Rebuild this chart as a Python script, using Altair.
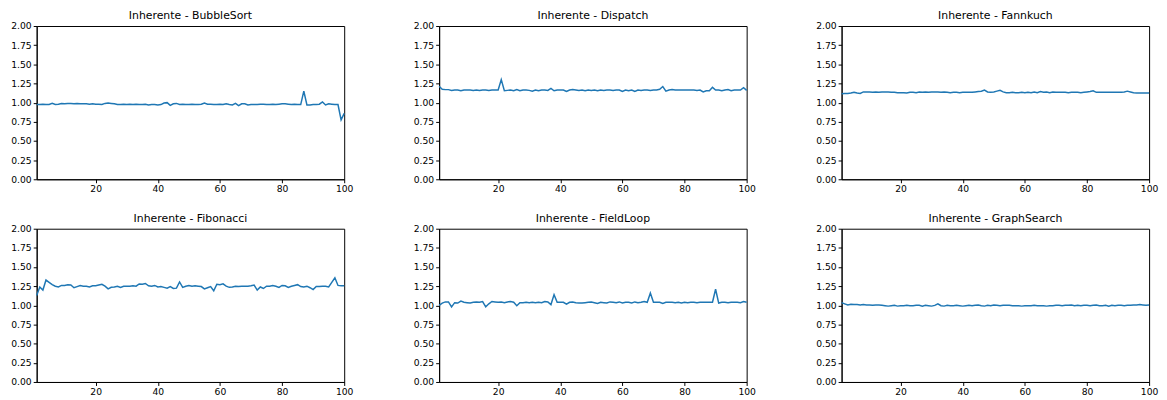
import altair as alt
import pandas as pd

X = list(range(1, 101))

bubblesort = [
    0.975, 0.975, 0.98, 0.975, 0.975, 0.99, 0.975, 0.98, 0.99, 0.985,
    0.99, 0.99, 0.985, 0.99, 0.985, 0.985, 0.985, 0.98, 0.985, 0.98,
    0.98, 0.975, 0.99, 0.995, 0.99, 0.985, 0.975, 0.975, 0.98, 0.975,
    0.98, 0.975, 0.98, 0.975, 0.975, 0.98, 0.97, 0.975, 0.975, 0.97,
    0.975, 0.995, 1.0, 0.965, 0.985, 0.99, 0.975, 0.98, 0.975, 0.975,
    0.98, 0.975, 0.975, 0.98, 0.995, 0.98, 0.98, 0.975, 0.975, 0.98,
    0.975, 0.985, 0.975, 0.97, 0.99, 0.96, 0.985, 0.985, 0.97, 0.975,
    0.975, 0.975, 0.98, 0.98, 0.975, 0.975, 0.98, 0.975, 0.98, 0.985,
    0.985, 0.98, 0.975, 0.98, 0.975, 0.975, 1.15, 0.97, 0.97, 0.975,
    0.975, 0.98, 1.01, 0.97, 0.985, 0.98, 0.975, 0.975, 0.775, 0.86,
]

dispatch = [
    1.215, 1.175, 1.17, 1.17, 1.16, 1.165, 1.165, 1.155, 1.165, 1.165,
    1.165, 1.16, 1.165, 1.16, 1.165, 1.165, 1.16, 1.165, 1.165, 1.165,
    1.30, 1.155, 1.16, 1.165, 1.155, 1.17, 1.155, 1.165, 1.165, 1.16,
    1.15, 1.165, 1.155, 1.165, 1.165, 1.16, 1.185, 1.155, 1.165, 1.165,
    1.165, 1.145, 1.165, 1.17, 1.165, 1.16, 1.165, 1.155, 1.165, 1.16,
    1.165, 1.155, 1.165, 1.16, 1.165, 1.165, 1.16, 1.165, 1.165, 1.145,
    1.165, 1.155, 1.165, 1.145, 1.165, 1.16, 1.165, 1.165, 1.16, 1.165,
    1.165, 1.175, 1.21, 1.15, 1.165, 1.17, 1.165, 1.165, 1.165, 1.165,
    1.165, 1.165, 1.165, 1.16, 1.165, 1.14, 1.155, 1.155, 1.20, 1.165,
    1.165, 1.155, 1.165, 1.17, 1.155, 1.165, 1.165, 1.165, 1.195, 1.16,
]

fannkuch = [
    1.115, 1.12, 1.12, 1.125, 1.135, 1.125, 1.12, 1.14, 1.14, 1.14,
    1.135, 1.14, 1.135, 1.14, 1.14, 1.14, 1.135, 1.135, 1.13, 1.13,
    1.13, 1.125, 1.135, 1.135, 1.13, 1.14, 1.135, 1.14, 1.135, 1.14,
    1.14, 1.14, 1.135, 1.14, 1.135, 1.13, 1.135, 1.135, 1.13, 1.135,
    1.135, 1.135, 1.135, 1.14, 1.145, 1.15, 1.165, 1.14, 1.135, 1.14,
    1.15, 1.16, 1.14, 1.13, 1.13, 1.135, 1.13, 1.13, 1.135, 1.13,
    1.135, 1.13, 1.14, 1.13, 1.145, 1.135, 1.14, 1.13, 1.14, 1.135,
    1.135, 1.135, 1.135, 1.13, 1.135, 1.135, 1.135, 1.13, 1.135, 1.14,
    1.145, 1.155, 1.135, 1.135, 1.135, 1.135, 1.135, 1.135, 1.135, 1.135,
    1.135, 1.14, 1.15, 1.14, 1.13, 1.125, 1.125, 1.125, 1.125, 1.125,
]

fibonacci = [
    1.13, 1.24, 1.20, 1.33, 1.30, 1.27, 1.25, 1.24, 1.26, 1.26,
    1.27, 1.265, 1.23, 1.245, 1.26, 1.25, 1.25, 1.24, 1.255, 1.255,
    1.265, 1.275, 1.25, 1.215, 1.235, 1.24, 1.25, 1.235, 1.25, 1.25,
    1.25, 1.255, 1.25, 1.28, 1.275, 1.285, 1.255, 1.25, 1.26, 1.24,
    1.245, 1.235, 1.225, 1.245, 1.22, 1.225, 1.305, 1.235, 1.25, 1.26,
    1.25, 1.255, 1.25, 1.245, 1.215, 1.23, 1.245, 1.19, 1.275, 1.27,
    1.28, 1.25, 1.235, 1.24, 1.25, 1.245, 1.25, 1.25, 1.25, 1.255,
    1.265, 1.20, 1.24, 1.22, 1.25, 1.25, 1.26, 1.25, 1.235, 1.26,
    1.255, 1.235, 1.25, 1.26, 1.27, 1.245, 1.24, 1.25, 1.23, 1.205,
    1.245, 1.245, 1.25, 1.25, 1.24, 1.30, 1.36, 1.26, 1.255, 1.255,
]

fieldloop = [
    1.0, 1.03, 1.045, 1.045, 0.98, 1.035, 1.03, 1.055, 1.04, 1.035,
    1.03, 1.04, 1.045, 1.04, 1.05, 0.98, 1.02, 1.05, 1.045, 1.04,
    1.045, 1.035, 1.045, 1.05, 1.04, 0.995, 1.035, 1.035, 1.04, 1.035,
    1.04, 1.035, 1.04, 1.035, 1.05, 1.045, 1.01, 1.14, 1.04, 1.04,
    1.04, 1.015, 1.04, 1.045, 1.035, 1.03, 1.03, 1.035, 1.04, 1.045,
    1.035, 1.025, 1.04, 1.035, 1.03, 1.045, 1.04, 1.035, 1.045, 1.03,
    1.04, 1.04, 1.03, 1.045, 1.035, 1.04, 1.05, 1.04, 1.16, 1.04,
    1.04, 1.04, 1.025, 1.04, 1.04, 1.04, 1.035, 1.04, 1.03, 1.04,
    1.035, 1.04, 1.04, 1.035, 1.04, 1.04, 1.04, 1.04, 1.04, 1.21,
    1.03, 1.04, 1.04, 1.035, 1.04, 1.04, 1.04, 1.035, 1.05, 1.04,
]

graphsearch = [
    1.035, 1.02, 1.005, 1.015, 1.01, 1.01, 1.005, 1.01, 1.005, 1.005,
    1.0, 1.005, 1.005, 1.0, 0.995, 0.99, 0.995, 1.0, 0.99, 0.995,
    0.995, 1.0, 0.995, 0.995, 1.0, 1.0, 0.99, 1.0, 0.995, 0.99,
    1.0, 1.02, 0.995, 0.99, 1.0, 0.995, 0.995, 1.0, 0.995, 0.99,
    0.995, 1.0, 0.995, 1.0, 1.005, 0.995, 0.99, 1.0, 0.995, 1.005,
    1.0, 0.995, 1.0, 1.0, 1.0, 0.995, 0.995, 0.995, 0.99, 0.995,
    0.995, 0.995, 1.0, 0.995, 0.995, 0.995, 0.99, 0.995, 0.995, 1.0,
    1.0, 0.995, 1.0, 1.0, 1.005, 0.995, 1.0, 0.995, 1.0, 1.0,
    0.995, 1.0, 1.005, 0.995, 0.995, 1.0, 0.99, 1.0, 0.995, 1.0,
    1.0, 0.995, 1.0, 1.0, 1.005, 1.005, 1.01, 1.005, 1.0, 1.005,
]

names = ["BubbleSort", "Dispatch", "Fannkuch", "Fibonacci", "FieldLoop", "GraphSearch"]
series = [bubblesort, dispatch, fannkuch, fibonacci, fieldloop, graphsearch]
x_ticks = [20, 40, 60, 80, 100]
y_ticks = [0, 0.25, 0.5, 0.75, 1.0, 1.25, 1.5, 1.75, 2.0]

FONT = "DejaVu Sans"


def panel(name, vals):
    df = pd.DataFrame({"x": X, "y": vals})
    return (
        alt.Chart(df, title=alt.Title("Inherente - " + name, dy=3))
        .mark_line(color="#1f77b4", strokeWidth=1.5)
        .encode(
            x=alt.X(
                "x:Q",
                scale=alt.Scale(domain=[1, 100], nice=False, zero=False),
                axis=alt.Axis(values=x_ticks, title=None, labelFlush=False, grid=False),
            ),
            y=alt.Y(
                "y:Q",
                scale=alt.Scale(domain=[0, 2], nice=False),
                axis=alt.Axis(values=y_ticks, format=".2f", title=None, grid=False),
            ),
        )
        .properties(width=311, height=155)
    )


charts = [panel(n, v) for n, v in zip(names, series)]
row1 = alt.hconcat(*charts[:3], spacing=59)
row2 = alt.hconcat(*charts[3:], spacing=59)

chart = (
    alt.vconcat(
        row1, row2, spacing=17, background="white",
        padding={"left": 2, "top": -1, "right": 0, "bottom": 0},
    )
    .configure_view(stroke="black", strokeWidth=1)
    .configure_axis(
        labelFont=FONT,
        labelFontSize=9.3,
        labelColor="#000000",
        tickColor="#000000",
        domainColor="#000000",
        tickSize=3.5,
        labelPadding=2,
    )
    .configure_title(font=FONT, fontSize=11, fontWeight="normal", color="#000000", offset=0)
)

chart.save("out.html", embed_options={"renderer": "svg", "actions": False})
